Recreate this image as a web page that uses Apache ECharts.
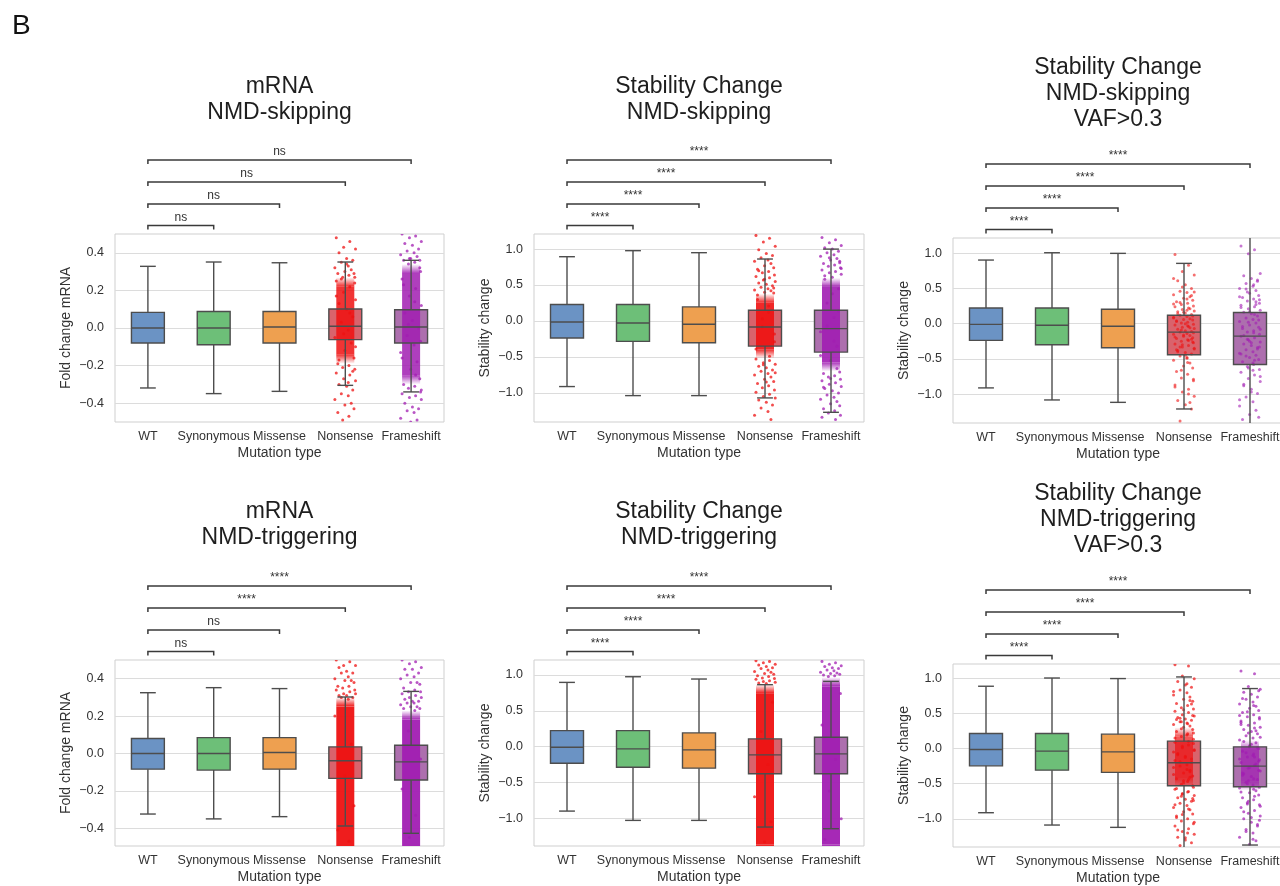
<!DOCTYPE html>
<html>
<head>
<meta charset="utf-8">
<title>Mutation type effects</title>
<script src="https://cdn.jsdelivr.net/npm/echarts@6/dist/echarts.min.js"></script>
<style>
  html, body { margin: 0; padding: 0; background: #ffffff; }
  #chart { width: 1280px; height: 886px; }
</style>
</head>
<body>
<div id="chart"></div>
<script>
// ---------- data ----------
const CATEGORIES = ['WT', 'Synonymous', 'Missense', 'Nonsense', 'Frameshift'];
const MRNA_TICKS = [-0.4, -0.2, 0.0, 0.2, 0.4];
const STABILITY_TICKS = [-1.0, -0.5, 0.0, 0.5, 1.0];

// y-axis limits per panel
const SKIP_MRNA_RANGE = [-0.5, 0.5];
const SKIP_STAB_RANGE = [-1.405, 1.21];
const SKIP_VAF_RANGE = [-1.41, 1.215];
const TRIG_MRNA_RANGE = [-0.495, 0.5];
const TRIG_STAB_RANGE = [-1.39, 1.21];
const TRIG_VAF_RANGE = [-1.4, 1.2];

// box statistics per category: [lower whisker, Q1, median, Q3, upper whisker]
const SKIP_MRNA_BOX = [
  [-0.319, -0.080, 0.000, 0.083, 0.328],
  [-0.349, -0.089, 0.000, 0.088, 0.351],
  [-0.337, -0.080, 0.005, 0.088, 0.347],
  [-0.305, -0.062, 0.009, 0.101, 0.351],
  [-0.340, -0.080, 0.005, 0.097, 0.360]
];
const SKIP_STAB_BOX = [
  [-0.912, -0.237, -0.014, 0.229, 0.894],
  [-1.038, -0.283, -0.028, 0.229, 0.978],
  [-1.038, -0.302, -0.046, 0.196, 0.950],
  [-1.070, -0.349, -0.084, 0.149, 0.862],
  [-1.270, -0.433, -0.106, 0.149, 1.000]
];
const SKIP_VAF_BOX = [
  [-0.912, -0.238, -0.010, 0.222, 0.902],
  [-1.083, -0.299, -0.024, 0.222, 1.006],
  [-1.117, -0.342, -0.038, 0.204, 0.997],
  [-1.211, -0.442, -0.120, 0.118, 0.855],
  [-1.450, -0.580, -0.177, 0.157, 1.250]
];
const TRIG_MRNA_BOX = [
  [-0.324, -0.084, 0.000, 0.080, 0.325],
  [-0.350, -0.089, 0.000, 0.085, 0.352],
  [-0.338, -0.084, 0.005, 0.085, 0.347],
  [-0.388, -0.133, -0.039, 0.035, 0.302],
  [-0.427, -0.142, -0.045, 0.044, 0.332]
];
const TRIG_STAB_BOX = [
  [-0.902, -0.233, -0.009, 0.223, 0.897],
  [-1.032, -0.289, -0.032, 0.223, 0.976],
  [-1.032, -0.302, -0.046, 0.191, 0.944],
  [-1.125, -0.381, -0.116, 0.107, 0.865],
  [-1.148, -0.381, -0.102, 0.130, 0.911]
];
const TRIG_VAF_BOX = [
  [-0.913, -0.247, -0.014, 0.213, 0.884],
  [-1.088, -0.308, -0.038, 0.213, 1.001],
  [-1.121, -0.340, -0.048, 0.203, 0.993],
  [-1.450, -0.530, -0.204, 0.104, 1.016],
  [-1.372, -0.545, -0.251, 0.023, 0.851]
];

// significance of WT vs Synonymous / Missense / Nonsense / Frameshift
const SKIP_MRNA_SIG = ['ns', 'ns', 'ns', 'ns'];
const SKIP_STAB_SIG = ['****', '****', '****', '****'];
const SKIP_VAF_SIG = ['****', '****', '****', '****'];
const TRIG_MRNA_SIG = ['ns', 'ns', '****', '****'];
const TRIG_STAB_SIG = ['****', '****', '****', '****'];
const TRIG_VAF_SIG = ['****', '****', '****', '****'];

// individual variants (Nonsense / Frameshift); *_CORE is the range where dots merge into a solid column
const SKIP_MRNA_NONSENSE = [0.48, 0.46, 0.43, 0.42, 0.40, 0.37, 0.36, 0.35, 0.33, 0.32, 0.31, 0.30, 0.29, 0.29, 0.28, 0.27, 0.27,
  0.25, 0.22, 0.19, 0.15, 0.13, 0.10, 0.06, 0.03, -0.01, -0.05, -0.08, -0.12, -0.16,
  -0.19, -0.20, -0.21, -0.22, -0.24, -0.25, -0.27, -0.28, -0.30, -0.31, -0.33, -0.35, -0.36, -0.38, -0.40, -0.41, -0.43, -0.45, -0.47, -0.49,
  0.24, 0.17, 0.08, -0.03, -0.10, -0.17, 0.34, -0.23, 0.26, -0.29];
const SKIP_MRNA_NONSENSE_CORE = [-0.19, 0.27];
const SKIP_MRNA_FRAMESHIFT = [0.50, 0.49, 0.48, 0.46, 0.45, 0.44, 0.42, 0.41, 0.40, 0.39, 0.38, 0.37, 0.36, 0.36, 0.35, 0.34,
  0.30, 0.26, 0.21, 0.17, 0.12, 0.08, 0.04, 0.00, -0.04, -0.09, -0.13, -0.18, -0.22, -0.27,
  -0.30, -0.31, -0.32, -0.34, -0.35, -0.36, -0.37, -0.38, -0.40, -0.42, -0.43, -0.44, -0.45, -0.48, -0.49, -0.50,
  0.32, 0.23, 0.14, 0.02, -0.07, -0.16, -0.25, 0.37, -0.33];
const SKIP_MRNA_FRAMESHIFT_CORE = [-0.30, 0.34];

const SKIP_STAB_NONSENSE = [1.19, 1.15, 1.10, 1.04, 0.99, 0.94, 0.91, 0.88, 0.85, 0.83, 0.80, 0.77, 0.74, 0.72, 0.69, 0.67, 0.64, 0.62,
  0.60, 0.57, 0.55, 0.53, 0.51, 0.49, 0.47, 0.45, 0.43, 0.42, 0.40, 0.39, 0.30, 0.12, -0.08, -0.29,
  -0.53, -0.55, -0.58, -0.60, -0.63, -0.65, -0.68, -0.70, -0.73, -0.75, -0.78, -0.81, -0.84, -0.87, -0.90, -0.93,
  -0.96, -0.99, -1.02, -1.05, -1.07, -1.10, -1.13, -1.17, -1.21, -1.26, -1.31, -1.37,
  0.58, 0.46, 0.36, 0.21, 0.03, -0.18, -0.39, -0.49, -0.61, -0.72, 0.70, -0.85];
const SKIP_STAB_NONSENSE_CORE = [-0.52, 0.38];
const SKIP_STAB_FRAMESHIFT = [1.16, 1.13, 1.09, 1.05, 1.02, 1.00, 0.97, 0.95, 0.92, 0.90, 0.87, 0.85, 0.83, 0.80, 0.78, 0.76,
  0.74, 0.71, 0.69, 0.67, 0.65, 0.63, 0.61, 0.45, 0.25, 0.05, -0.15, -0.35, -0.55,
  -0.71, -0.73, -0.76, -0.78, -0.81, -0.83, -0.86, -0.88, -0.91, -0.94, -0.97, -1.00, -1.03, -1.06, -1.09, -1.12,
  -1.15, -1.18, -1.22, -1.25, -1.28, -1.31, -1.34, -1.37,
  0.88, 0.73, 0.58, 0.38, 0.14, -0.07, -0.28, -0.48, -0.66, -0.80, 0.81, -0.92];
const SKIP_STAB_FRAMESHIFT_CORE = [-0.70, 0.60];

const SKIP_VAF_NONSENSE = [0.98, 0.83, 0.74, 0.69, 0.61, 0.55, 0.50, 0.46, 0.44, 0.41, 0.38, 0.36, 0.33, 0.31, 0.29, 0.27, 0.25,
  0.24, 0.22, 0.20, 0.18, 0.17, 0.15, 0.13, 0.12, 0.10, 0.09, 0.07, 0.06, 0.05, 0.03, 0.02, 0.01, -0.01, -0.02,
  -0.04, -0.05, -0.07, -0.08, -0.10, -0.11, -0.12, -0.14, -0.15, -0.17, -0.18, -0.20, -0.21, -0.23, -0.25, -0.27,
  -0.29, -0.31, -0.33, -0.36, -0.38, -0.41, -0.43, -0.46, -0.49, -0.52, -0.56, -0.60, -0.63, -0.68, -0.72, -0.77,
  -0.81, -0.87, -0.93, -0.97, -1.03, -1.09, -1.15, -1.21, -1.38,
  0.35, 0.28, 0.21, 0.16, 0.11, 0.04, -0.03, -0.09, -0.13, -0.19, -0.24, -0.30, -0.35, -0.40, -0.45, 0.40, 0.30,
  0.19, 0.08, -0.06, -0.16, -0.26, -0.37, -0.55, -0.66, -0.79, -0.90, -1.00, 0.52, 0.45, 0.14, 0.00, -0.22, -0.33,
  -0.48, 0.64, -1.12];
const SKIP_VAF_FRAMESHIFT = [1.10, 1.05, 0.99, 0.71, 0.68, 0.64, 0.60, 0.57, 0.53, 0.50, 0.47, 0.43, 0.40, 0.37, 0.35, 0.32,
  0.29, 0.26, 0.24, 0.21, 0.19, 0.16, 0.14, 0.11, 0.08, 0.06, 0.03, 0.01, -0.02, -0.05, -0.07, -0.10, -0.12,
  -0.15, -0.18, -0.20, -0.23, -0.26, -0.29, -0.31, -0.34, -0.37, -0.40, -0.42, -0.45, -0.48, -0.51, -0.54,
  -0.58, -0.61, -0.65, -0.69, -0.73, -0.78, -0.82, -0.88, -0.93, -0.99, -1.04, -1.11, -1.17, -1.23, -1.29, -1.33, -1.36,
  0.55, 0.45, 0.34, 0.23, 0.13, 0.02, -0.08, -0.17, -0.27, -0.36, -0.46, -0.56, 0.38, 0.27, 0.17, 0.05, -0.04,
  -0.13, -0.22, -0.33, -0.43, -0.52, -0.63, -0.75, -0.86, -0.97, 0.62, 0.49, -0.66, -1.08, 0.31, -0.25];

const TRIG_MRNA_NONSENSE = [0.50, 0.49, 0.47, 0.47, 0.46, 0.44, 0.43, 0.43, 0.41, 0.40, 0.39, 0.39, 0.38, 0.36, 0.36,
  0.35, 0.34, 0.34, 0.33, 0.32, 0.32, 0.31, 0.31, 0.30, 0.30, 0.29, 0.20, 0.05, -0.12, -0.28, -0.41, -0.47];
const TRIG_MRNA_NONSENSE_CORE = [-0.55, 0.30];
const TRIG_MRNA_FRAMESHIFT = [0.50, 0.49, 0.48, 0.46, 0.45, 0.45, 0.43, 0.42, 0.41, 0.40, 0.38, 0.38, 0.37, 0.35, 0.34,
  0.33, 0.33, 0.32, 0.31, 0.30, 0.30, 0.29, 0.28, 0.28, 0.27, 0.27, 0.26, 0.25, 0.25, 0.24, 0.24, 0.23,
  0.12, -0.03, -0.19, -0.33, -0.45];
const TRIG_MRNA_FRAMESHIFT_CORE = [-0.55, 0.23];

const TRIG_STAB_NONSENSE = [1.20, 1.19, 1.17, 1.15, 1.14, 1.12, 1.10, 1.09, 1.07, 1.05, 1.04, 1.02, 1.01, 0.99, 0.98,
  0.96, 0.95, 0.94, 0.92, 0.91, 0.90, 0.89, 0.88, 0.62, 0.21, -0.25, -0.70, -1.05, -1.33];
const TRIG_STAB_NONSENSE_CORE = [-1.50, 0.87];
const TRIG_STAB_FRAMESHIFT = [1.19, 1.17, 1.15, 1.13, 1.12, 1.10, 1.09, 1.07, 1.06, 1.04, 1.03, 1.02, 1.01, 1.00, 0.99, 0.98,
  0.74, 0.30, -0.18, -0.62, -1.01, -1.30];
const TRIG_STAB_FRAMESHIFT_CORE = [-1.50, 0.97];

const TRIG_VAF_NONSENSE = [1.19, 1.17, 1.03, 0.99, 0.95, 0.90, 0.87, 0.83, 0.79, 0.76, 0.73, 0.70, 0.67, 0.64, 0.61, 0.58,
  0.56, 0.53, 0.51, 0.48, 0.46, 0.44, 0.42, 0.40, 0.38, 0.36, 0.34, 0.32, 0.30, 0.27, 0.24, 0.21, 0.17, 0.13,
  0.09, 0.05, 0.01, -0.03, -0.07, -0.11, -0.15, -0.19, -0.23, -0.27, -0.31, -0.35, -0.39, -0.43, -0.47, -0.51,
  -0.55, -0.58, -0.61, -0.64, -0.67, -0.70, -0.72, -0.75, -0.78, -0.81, -0.84, -0.87, -0.90, -0.93, -0.96, -1.00,
  -1.03, -1.07, -1.10, -1.14, -1.18, -1.22, -1.26, -1.30, -1.34, -1.38,
  0.92, 0.81, 0.68, 0.55, 0.47, 0.41, 0.35, 0.28, 0.22, 0.15, 0.10, 0.03, -0.02, -0.09, -0.13, -0.20, -0.25,
  -0.30, -0.37, -0.41, -0.46, -0.53, -0.57, -0.62, -0.68, -0.74, -0.80, -0.86, -0.94, -1.05, -1.16, -1.27, 0.63,
  0.43, 0.19, -0.05, -0.33, -0.49, -0.71, -0.98, -1.20, 0.38, 0.07, -0.17, -0.44, -0.65];
const TRIG_VAF_NONSENSE_CORE = [-0.55, 0.30];
const TRIG_VAF_FRAMESHIFT = [1.10, 1.06, 0.88, 0.84, 0.80, 0.77, 0.73, 0.70, 0.66, 0.63, 0.60, 0.57, 0.54, 0.51, 0.48, 0.45,
  0.42, 0.39, 0.36, 0.33, 0.30, 0.27, 0.24, 0.21, 0.18, 0.15, 0.12, 0.08, 0.04, 0.00, -0.04, -0.08, -0.12, -0.16,
  -0.20, -0.24, -0.28, -0.32, -0.36, -0.40, -0.44, -0.48, -0.52, -0.56, -0.60, -0.63, -0.66, -0.70, -0.73, -0.77,
  -0.80, -0.84, -0.88, -0.92, -0.96, -1.00, -1.05, -1.10, -1.15, -1.20, -1.26, -1.31, -1.36,
  0.82, 0.71, 0.61, 0.52, 0.44, 0.37, 0.29, 0.22, 0.16, 0.10, 0.06, 0.01, -0.06, -0.10, -0.15, -0.22, -0.27,
  -0.31, -0.38, -0.43, -0.50, -0.55, -0.62, -0.68, -0.75, -0.82, -0.90, -0.98, -1.08, -1.18, -1.29, 0.47, 0.25,
  0.02, -0.18, -0.35, -0.58, -0.79, -1.02, 0.34, -0.12, -0.46];
const TRIG_VAF_FRAMESHIFT_CORE = [-0.60, 0.12];

// ---------- styling ----------
const FONT = "'Liberation Sans', Arial, Helvetica, sans-serif";
const BOX_COLORS = ['#6b93c4', '#6dbf78', '#eea050', '#d9636c', '#ad6fae'];
const DOT_COLORS = { 3: '#ee1111', 4: '#a11db2' };
const EDGE = '#4d4d4d';
const TEXT = '#333333';
// horizontal spread of the dots, in units of the jitter half-width
const JITTER = [-0.82, 0.41, -0.15, 0.93, -0.57, 0.12, 0.68, -0.36, 0.27, -0.95, 0.54, -0.04, 0.79, -0.68, 0.33, -0.24, 0.86];
const JITTER_HALF = 11;
const CORE_HALF = 9;
const CORE_FADE = 9;
const BRACKET_OFFSETS = [8.5, 30, 52, 74];

const PANELS = [
  { title: 'mRNA\nNMD-skipping', yName: 'Fold change mRNA', ticks: MRNA_TICKS, range: SKIP_MRNA_RANGE,
    box: SKIP_MRNA_BOX, sig: SKIP_MRNA_SIG,
    clouds: [{ cat: 3, pts: SKIP_MRNA_NONSENSE, core: SKIP_MRNA_NONSENSE_CORE },
             { cat: 4, pts: SKIP_MRNA_FRAMESHIFT, core: SKIP_MRNA_FRAMESHIFT_CORE }],
    layout: { left: 115, top: 234, width: 329, height: 188, titleTop: 74 }, dotOpacity: 0.75, coreOpacity: 0.85 },
  { title: 'Stability Change\nNMD-skipping', yName: 'Stability change', ticks: STABILITY_TICKS, range: SKIP_STAB_RANGE,
    box: SKIP_STAB_BOX, sig: SKIP_STAB_SIG,
    clouds: [{ cat: 3, pts: SKIP_STAB_NONSENSE, core: SKIP_STAB_NONSENSE_CORE },
             { cat: 4, pts: SKIP_STAB_FRAMESHIFT, core: SKIP_STAB_FRAMESHIFT_CORE }],
    layout: { left: 534, top: 234, width: 330, height: 188, titleTop: 74 }, dotOpacity: 0.75, coreOpacity: 0.9 },
  { title: 'Stability Change\nNMD-skipping\nVAF>0.3', yName: 'Stability change', ticks: STABILITY_TICKS, range: SKIP_VAF_RANGE,
    box: SKIP_VAF_BOX, sig: SKIP_VAF_SIG,
    clouds: [{ cat: 3, pts: SKIP_VAF_NONSENSE, core: null },
             { cat: 4, pts: SKIP_VAF_FRAMESHIFT, core: null }],
    layout: { left: 953, top: 238, width: 330, height: 185, titleTop: 55 }, dotOpacity: 0.6, coreOpacity: 0 },
  { title: 'mRNA\nNMD-triggering', yName: 'Fold change mRNA', ticks: MRNA_TICKS, range: TRIG_MRNA_RANGE,
    box: TRIG_MRNA_BOX, sig: TRIG_MRNA_SIG,
    clouds: [{ cat: 3, pts: TRIG_MRNA_NONSENSE, core: TRIG_MRNA_NONSENSE_CORE },
             { cat: 4, pts: TRIG_MRNA_FRAMESHIFT, core: TRIG_MRNA_FRAMESHIFT_CORE }],
    layout: { left: 115, top: 660, width: 329, height: 186, titleTop: 499 }, dotOpacity: 0.75, coreOpacity: 0.95 },
  { title: 'Stability Change\nNMD-triggering', yName: 'Stability change', ticks: STABILITY_TICKS, range: TRIG_STAB_RANGE,
    box: TRIG_STAB_BOX, sig: TRIG_STAB_SIG,
    clouds: [{ cat: 3, pts: TRIG_STAB_NONSENSE, core: TRIG_STAB_NONSENSE_CORE },
             { cat: 4, pts: TRIG_STAB_FRAMESHIFT, core: TRIG_STAB_FRAMESHIFT_CORE }],
    layout: { left: 534, top: 660, width: 330, height: 186, titleTop: 499 }, dotOpacity: 0.75, coreOpacity: 0.95 },
  { title: 'Stability Change\nNMD-triggering\nVAF>0.3', yName: 'Stability change', ticks: STABILITY_TICKS, range: TRIG_VAF_RANGE,
    box: TRIG_VAF_BOX, sig: TRIG_VAF_SIG,
    clouds: [{ cat: 3, pts: TRIG_VAF_NONSENSE, core: TRIG_VAF_NONSENSE_CORE },
             { cat: 4, pts: TRIG_VAF_FRAMESHIFT, core: TRIG_VAF_FRAMESHIFT_CORE }],
    layout: { left: 953, top: 664, width: 330, height: 183, titleTop: 481 }, dotOpacity: 0.7, coreOpacity: 0.7 }
];

// ---------- renderers ----------
function rgba(hex, a) {
  const n = parseInt(hex.slice(1), 16);
  return 'rgba(' + ((n >> 16) & 255) + ',' + ((n >> 8) & 255) + ',' + (n & 255) + ',' + a + ')';
}

function boxGeometry(api) {
  const k = api.value(0);
  const band = api.size([1, 0])[0];
  const x = api.coord([k, 0])[0];
  const y = (v) => api.coord([k, v])[1];
  return {
    k, x, hw: band * 0.25, cw: band * 0.12,
    lo: y(api.value(1)), q1: y(api.value(2)), med: y(api.value(3)), q3: y(api.value(4)), hi: y(api.value(5))
  };
}

function renderBoxFill(params, api) {
  const g = boxGeometry(api);
  return {
    type: 'rect',
    shape: { x: g.x - g.hw, y: g.q3, width: g.hw * 2, height: g.q1 - g.q3 },
    style: { fill: BOX_COLORS[g.k] }
  };
}

function renderBoxLines(params, api) {
  const g = boxGeometry(api);
  const line = (x1, y1, x2, y2) => ({
    type: 'line', shape: { x1, y1, x2, y2 },
    style: { stroke: EDGE, lineWidth: 1.4 }
  });
  return {
    type: 'group',
    children: [
      { type: 'rect', shape: { x: g.x - g.hw, y: g.q3, width: g.hw * 2, height: g.q1 - g.q3 },
        style: { fill: null, stroke: EDGE, lineWidth: 1.4 } },
      line(g.x - g.hw, g.med, g.x + g.hw, g.med),
      line(g.x, g.q3, g.x, g.hi),
      line(g.x, g.q1, g.x, g.lo),
      line(g.x - g.cw, g.hi, g.x + g.cw, g.hi),
      line(g.x - g.cw, g.lo, g.x + g.cw, g.lo)
    ]
  };
}

// solid column where the dots overlap, softened at both ends
function makeCoreRenderer(color, opacity) {
  const full = rgba(color, opacity);
  const none = rgba(color, 0);
  return function (params, api) {
    const k = api.value(0);
    const x = api.coord([k, 0])[0] - CORE_HALF;
    const yTop = api.coord([k, api.value(2)])[1];
    const yBot = api.coord([k, api.value(1)])[1];
    const f = Math.min(CORE_FADE, (yBot - yTop) / 4);
    const w = CORE_HALF * 2;
    const fade = (y, h, fromTop) => ({
      type: 'rect', shape: { x, y, width: w, height: h },
      style: { fill: { type: 'linear', x: 0, y: 0, x2: 0, y2: 1,
        colorStops: [{ offset: 0, color: fromTop ? none : full }, { offset: 1, color: fromTop ? full : none }] } }
    });
    return {
      type: 'group',
      children: [
        fade(yTop, f, true),
        { type: 'rect', shape: { x, y: yTop + f, width: w, height: yBot - yTop - 2 * f }, style: { fill: full } },
        fade(yBot - f, f, false)
      ]
    };
  };
}

function makeDotRenderer(color, opacity) {
  return function (params, api) {
    const k = api.value(0);
    const p = api.coord([k, api.value(1)]);
    const dx = JITTER[params.dataIndex % JITTER.length] * JITTER_HALF;
    return {
      type: 'circle',
      shape: { cx: p[0] + dx, cy: p[1], r: 1.5 },
      style: { fill: color, opacity: opacity }
    };
  };
}

function makeBracketRenderer(labels) {
  return function (params, api) {
    const target = api.value(0);
    const level = api.value(1);
    const x1 = api.coord([0, 0])[0];
    const x2 = api.coord([target, 0])[0];
    const y = params.coordSys.y - BRACKET_OFFSETS[level];
    return {
      type: 'group',
      children: [
        { type: 'polyline', shape: { points: [[x1, y + 4], [x1, y], [x2, y], [x2, y + 4]] },
          style: { stroke: '#3a3a3a', lineWidth: 1.5, fill: null } },
        { type: 'text', x: (x1 + x2) / 2, y: y - 2,
          style: { text: labels[params.dataIndex], align: 'center', verticalAlign: 'bottom',
                   fontSize: 12, fontFamily: FONT, fill: TEXT } }
      ]
    };
  };
}

// ---------- option ----------
const fmt = (v) => v.toFixed(1).replace('-', '\u2212');

const option = {
  animation: false,
  backgroundColor: '#ffffff',
  title: [{ text: 'B', left: 12, top: 12, padding: 0,
            textStyle: { fontSize: 28, fontWeight: 'normal', color: '#111', fontFamily: FONT } }]
    .concat(PANELS.map((p) => ({
      text: p.title, left: p.layout.left + p.layout.width / 2, top: p.layout.titleTop, textAlign: 'center', padding: 0,
      textStyle: { fontSize: 23, lineHeight: 26, fontWeight: 'normal', color: '#1e1e1e', fontFamily: FONT }
    }))),
  grid: PANELS.map((p) => ({
    left: p.layout.left, top: p.layout.top, width: p.layout.width, height: p.layout.height,
    containLabel: false, outerBoundsMode: 'none',
    show: true, borderColor: '#cfcfcf', borderWidth: 1, backgroundColor: 'transparent'
  })),
  xAxis: PANELS.map((p, i) => ({
    gridIndex: i, type: 'category', data: CATEGORIES, boundaryGap: true,
    axisLine: { show: false }, axisTick: { show: false }, splitLine: { show: false },
    axisLabel: { interval: 0, margin: 8, fontSize: 12.5, color: TEXT, fontFamily: FONT },
    name: 'Mutation type', nameLocation: 'middle', nameGap: 24,
    nameTextStyle: { fontSize: 14, color: TEXT, fontFamily: FONT }
  })),
  yAxis: PANELS.map((p, i) => ({
    gridIndex: i, type: 'value', min: p.range[0], max: p.range[1],
    axisLine: { show: false },
    axisTick: { show: false, customValues: p.ticks },
    axisLabel: { customValues: p.ticks, formatter: fmt, margin: 11, fontSize: 12.5, color: TEXT, fontFamily: FONT },
    splitLine: { show: true, lineStyle: { color: '#dcdcdc', width: 1 } },
    name: p.yName, nameLocation: 'middle', nameGap: 42,
    nameTextStyle: { fontSize: 14, color: TEXT, fontFamily: FONT }
  })),
  series: []
};

PANELS.forEach((p, i) => {
  const axes = { coordinateSystem: 'cartesian2d', xAxisIndex: i, yAxisIndex: i, silent: true };
  const boxData = p.box.map((b, k) => [k].concat(b));
  option.series.push(Object.assign({ type: 'custom', name: 'box fill ' + i, z: 1, clip: true,
    data: boxData, renderItem: renderBoxFill }, axes));
  p.clouds.forEach((cl) => {
    if (cl.core) {
      option.series.push(Object.assign({ type: 'custom', name: 'core ' + i + '-' + cl.cat, z: 2, clip: true,
        data: [[cl.cat, cl.core[0], cl.core[1]]],
        renderItem: makeCoreRenderer(DOT_COLORS[cl.cat], p.coreOpacity) }, axes));
    }
    option.series.push(Object.assign({ type: 'custom', name: 'dots ' + i + '-' + cl.cat, z: 3, clip: true,
      data: cl.pts.map((v) => [cl.cat, v]),
      renderItem: makeDotRenderer(DOT_COLORS[cl.cat], p.dotOpacity) }, axes));
  });
  option.series.push(Object.assign({ type: 'custom', name: 'box lines ' + i, z: 4, clip: true,
    data: boxData, renderItem: renderBoxLines }, axes));
  option.series.push(Object.assign({ type: 'custom', name: 'brackets ' + i, z: 5, clip: false,
    data: p.sig.map((s, k) => [k + 1, k]), renderItem: makeBracketRenderer(p.sig) }, axes));
});

const chart = echarts.init(document.getElementById('chart'), null, { renderer: 'canvas' });
chart.setOption(option);
</script>
</body>
</html>
